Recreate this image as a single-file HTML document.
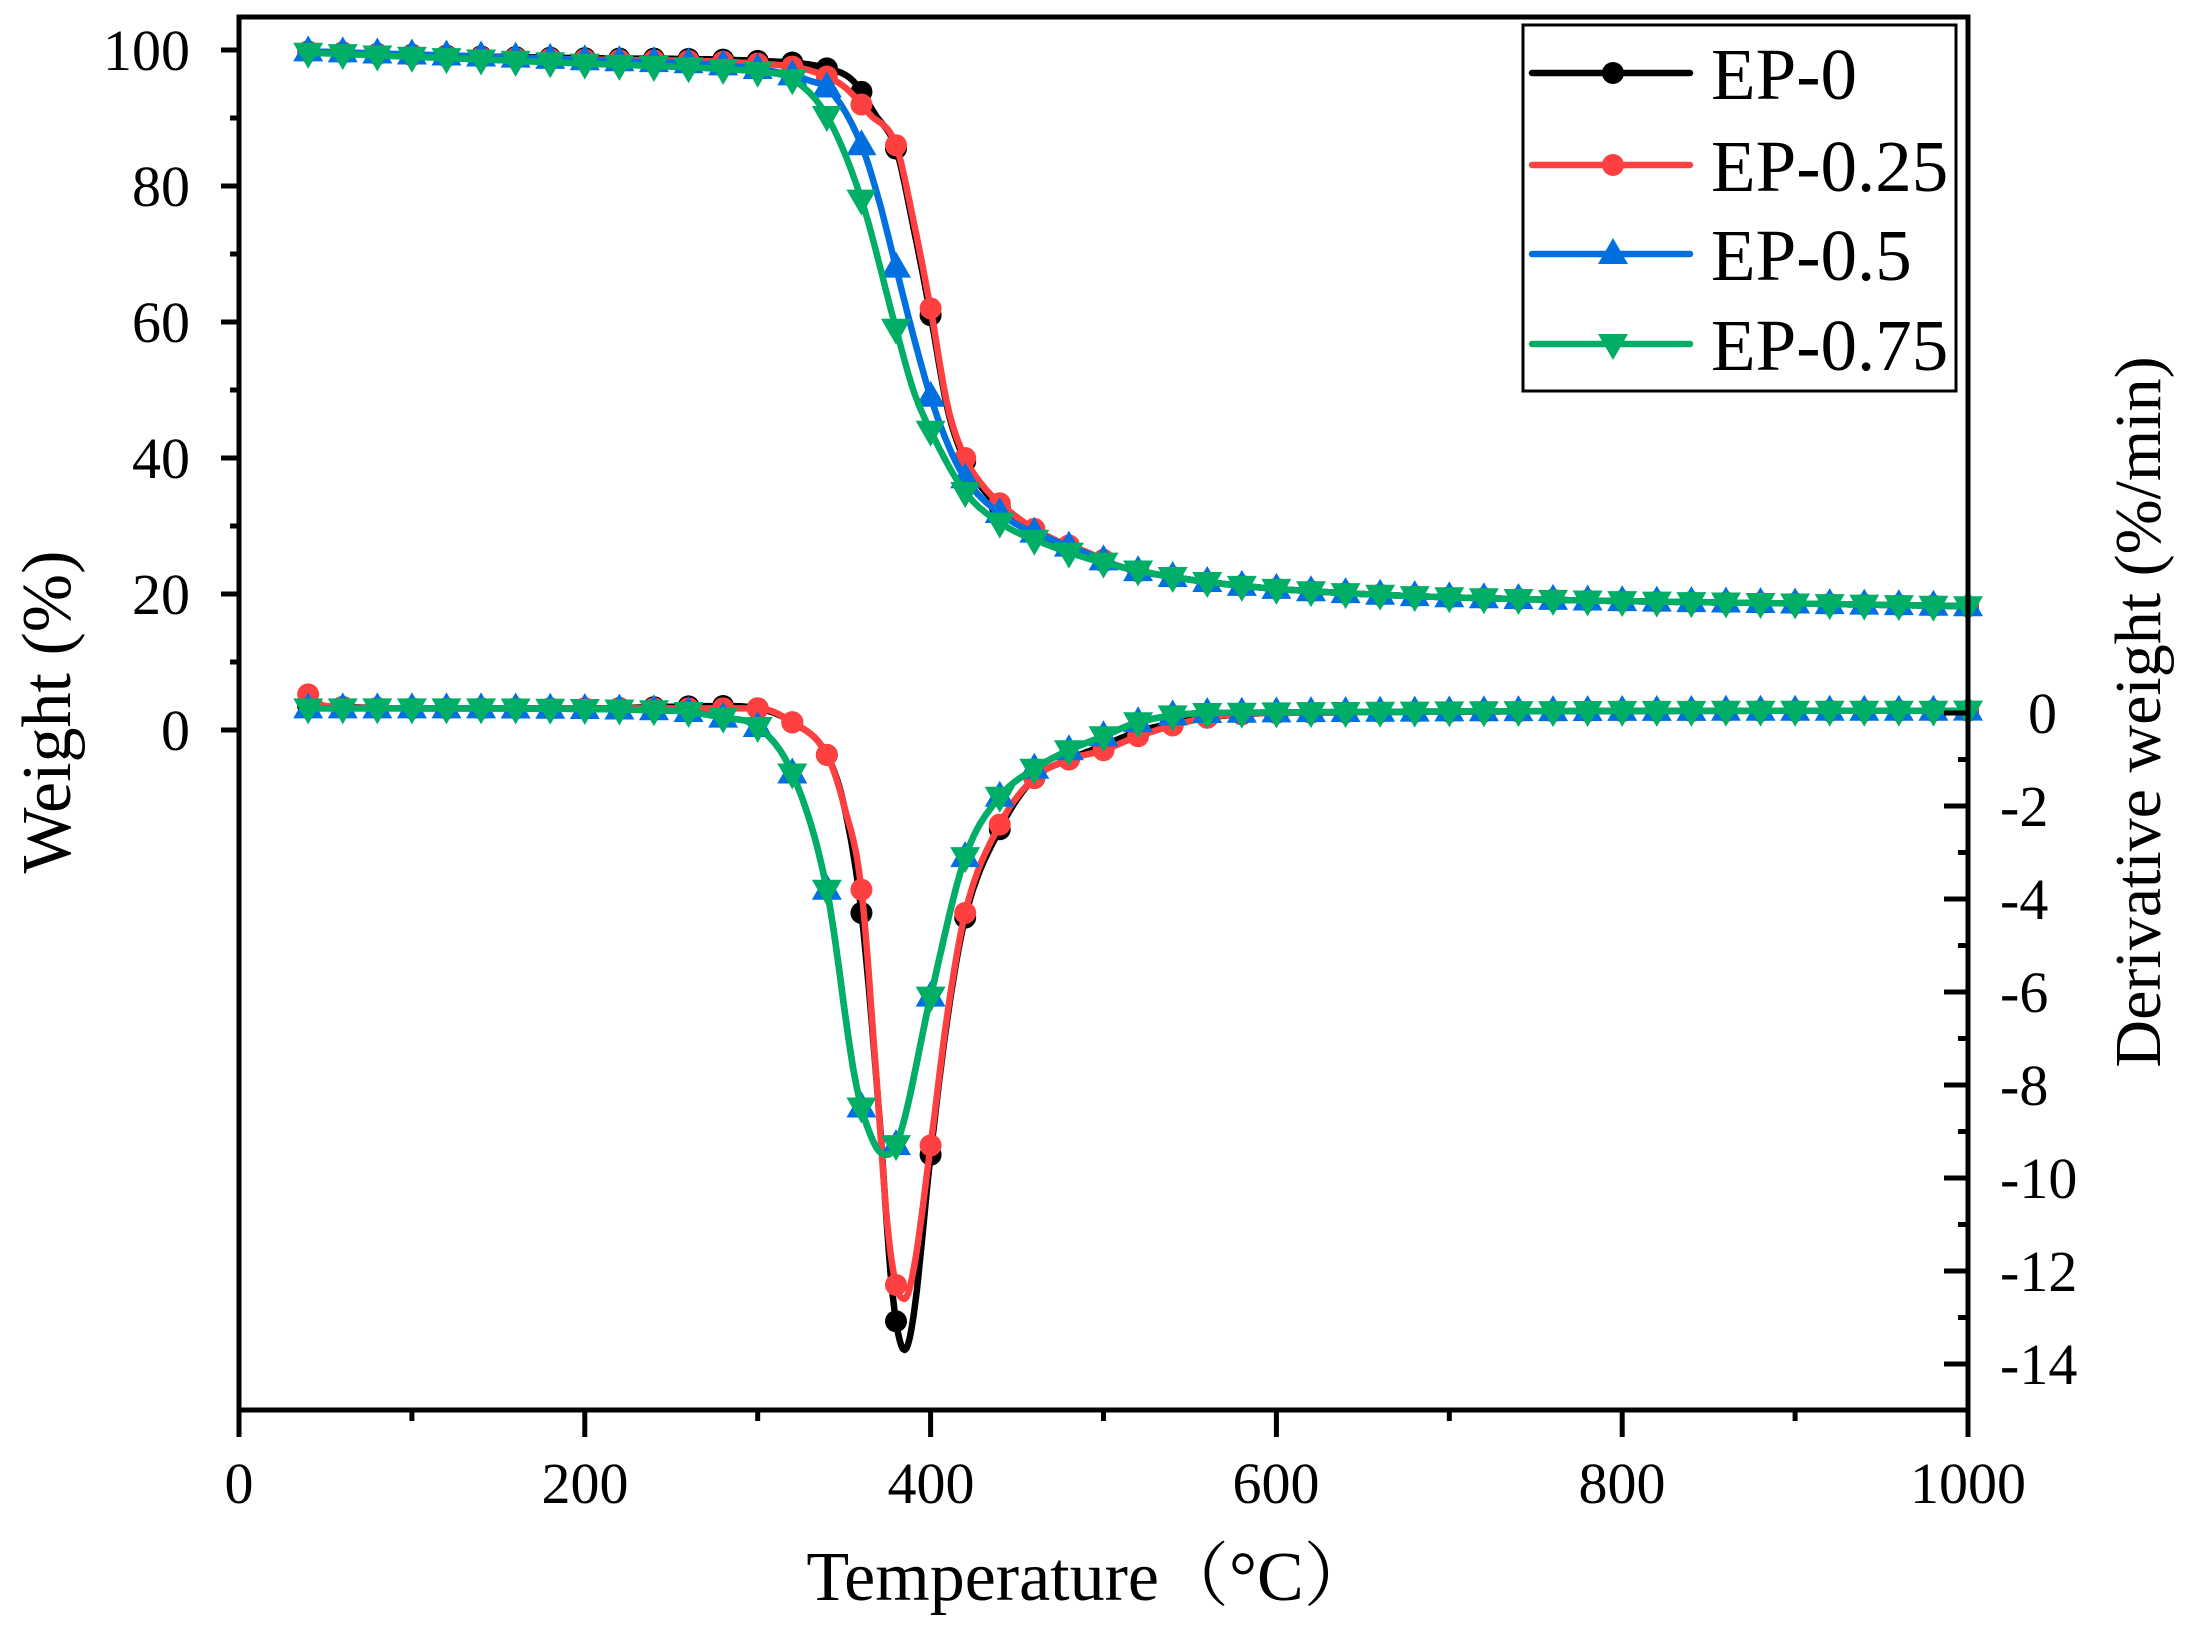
<!DOCTYPE html>
<html><head><meta charset="utf-8"><style>
html,body{margin:0;padding:0;background:#fff;}
svg{display:block;}
text{font-family:"Liberation Serif","Noto Serif CJK SC",serif;fill:#000;}
</style></head><body>
<svg id="s" width="2190" height="1644" viewBox="0 0 2190 1644" xmlns="http://www.w3.org/2000/svg">
<rect width="2190" height="1644" fill="#fff"/>
<g id="curves"></g>
<g id="axes" stroke="#000" stroke-width="5" fill="none">
<rect x="239" y="17" width="1729" height="1393"/>
</g>
<g id="ticks" stroke="#000" stroke-width="5"></g>
<g font-size="58">
<text x="190" y="70" text-anchor="end">100</text>
<text x="190" y="206" text-anchor="end">80</text>
<text x="190" y="342" text-anchor="end">60</text>
<text x="190" y="478" text-anchor="end">40</text>
<text x="190" y="614" text-anchor="end">20</text>
<text x="190" y="750" text-anchor="end">0</text>
<text x="239" y="1503" text-anchor="middle">0</text>
<text x="585" y="1503" text-anchor="middle">200</text>
<text x="931" y="1503" text-anchor="middle">400</text>
<text x="1276" y="1503" text-anchor="middle">600</text>
<text x="1622" y="1503" text-anchor="middle">800</text>
<text x="1968" y="1503" text-anchor="middle">1000</text>
<text x="2028" y="733">0</text>
<text x="2000" y="826">-2</text>
<text x="2000" y="919">-4</text>
<text x="2000" y="1012">-6</text>
<text x="2000" y="1105">-8</text>
<text x="2000" y="1198">-10</text>
<text x="2000" y="1291">-12</text>
<text x="2000" y="1384">-14</text>
</g>
<text x="1090" y="1600" font-size="70" text-anchor="middle">Temperature（°C）</text>
<text transform="translate(70,712) rotate(-90)" font-size="70" text-anchor="middle">Weight (%)</text>
<text transform="translate(2160,712) rotate(-90)" font-size="66" text-anchor="middle">Derivative weight (%/min)</text>
<g id="legend">
<rect x="1523" y="25" width="433" height="366" fill="#fff" stroke="#000" stroke-width="3"/>
</g>
</svg>
<script>
const NS="http://www.w3.org/2000/svg";
const X=t=>239+t*1.729, YL=v=>50+(100-v)*6.8, YR=d=>713-d*46.5;
function el(tag,attrs,parent){const e=document.createElementNS(NS,tag);for(const k in attrs)e.setAttribute(k,attrs[k]);parent.appendChild(e);return e;}
function interp(pts){
 const n=pts.length,xs=pts.map(p=>p[0]),ys=pts.map(p=>p[1]);
 const d=[],m=[];
 for(let i=0;i<n-1;i++)d.push((ys[i+1]-ys[i])/(xs[i+1]-xs[i]));
 m[0]=d[0];m[n-1]=d[n-2];
 for(let i=1;i<n-1;i++){ if(d[i-1]*d[i]<=0)m[i]=0; else m[i]=(d[i-1]+d[i])/2; }
 for(let i=0;i<n-1;i++){ if(d[i]===0){m[i]=0;m[i+1]=0;continue;} const a=m[i]/d[i],b=m[i+1]/d[i],s=a*a+b*b; if(s>9){const t=3/Math.sqrt(s);m[i]=t*a*d[i];m[i+1]=t*b*d[i];} }
 return x=>{let i=0;while(i<n-2&&x>xs[i+1])i++;const h=xs[i+1]-xs[i],t=(x-xs[i])/h,t2=t*t,t3=t2*t;
  return (2*t3-3*t2+1)*ys[i]+(t3-2*t2+t)*h*m[i]+(-2*t3+3*t2)*ys[i+1]+(t3-t2)*h*m[i+1];};
}
const tail=[[510,24],[540,22.5],[580,21.2],[650,20],[750,19.2],[900,18.6],[1000,18.2]];
const TG={
 k:[[40,99.8],[100,99.3],[200,98.8],[300,98.4],[340,97.3],[355,95.5],[368,90.5],[380,85.5],[390,74],[400,61],[410,47],[420,39.5],[430,35.5],[450,30.8],[470,27.8],[490,25.8]].concat(tail),
 r:[[40,99.8],[100,99.2],[200,98.6],[300,98],[330,97],[350,94.6],[365,90.5],[380,86],[390,75],[400,62],[410,47.5],[420,40],[430,36],[450,31.3],[470,28.2],[490,26.2]].concat(tail),
 b:[[40,99.8],[200,98.5],[300,97.2],[330,95.5],[342,94],[360,86],[370,78],[380,68],[390,58],[400,49],[410,42],[420,37],[445,31],[470,28],[490,26]].concat(tail),
 g:[[40,99.6],[200,98],[280,97.2],[300,96.8],[320,95.7],[340,90.3],[360,78],[380,59],[390,50],[400,44],[420,35],[440,30.5],[470,27],[490,25.3]].concat(tail)
};
const bg=[[40,0.1],[100,0.1],[250,0.05],[280,-0.1],[300,-0.3],[320,-1.3],[340,-3.8],[357,-8],[368,-9.3],[375,-9.5],[382,-9.1],[400,-6.1],[420,-3.1],[440,-1.8],[460,-1.2],[480,-0.8],[500,-0.5],[520,-0.2],[560,0],[1000,0.05]];
const DTG={
 k:[[40,0.15],[100,0.1],[200,0.1],[280,0.15],[300,0.1],[320,-0.2],[340,-0.9],[350,-2],[360,-4.3],[370,-8.5],[378,-12.5],[385,-13.7],[390,-13],[400,-9.5],[410,-6.5],[420,-4.4],[440,-2.5],[460,-1.4],[480,-1],[500,-0.7],[520,-0.4],[560,-0.1],[600,0],[1000,0.05]],
 r:[[40,0.4],[50,0.15],[100,0.1],[200,0.1],[300,0.1],[320,-0.2],[340,-0.9],[350,-2],[360,-3.8],[368,-7.5],[375,-11],[380,-12.3],[385,-12.6],[390,-12],[400,-9.3],[410,-6.4],[420,-4.3],[440,-2.4],[460,-1.4],[480,-1],[500,-0.8],[520,-0.5],[560,-0.1],[600,0],[1000,0.05]],
 b:bg,g:bg
};
const col={k:"#000000",r:"#FF4040",b:"#0070E0",g:"#00AE66"};
const G=document.getElementById("curves");
function marker(type,x,y,c,p){
 if(type==="k"||type==="r") el("circle",{cx:x,cy:y,r:11,fill:c},p);
 else if(type==="b") el("polygon",{points:`${x},${y-16} ${x-15},${y+10} ${x+15},${y+10}`,fill:c},p);
 else el("polygon",{points:`${x},${y+16} ${x-15},${y-10} ${x+15},${y-10}`,fill:c},p);
}
for(const s of ["k","r","b","g"]){
 for(const [data,Y] of [[TG[s],YL],[DTG[s],YR]]){
  const f=interp(data);let d="";
  for(let t=40;t<=1000;t+=1){d+=(t===40?"M":"L")+X(t).toFixed(1)+","+Y(f(t)).toFixed(1);}
  el("path",{d:d,fill:"none",stroke:col[s],"stroke-width":6.5,"stroke-linejoin":"round","stroke-linecap":"round"},G);
  for(let t=40;t<=1000;t+=20) marker(s,X(t),Y(f(t)),col[s],G);
 }
}
const T=document.getElementById("ticks");
for(let v=0;v<=100;v+=10){const y=YL(v);el("line",{x1:239,x2:v%20===0?221:230,y1:y,y2:y},T);}
for(let t=0;t<=1000;t+=100){const x=X(t);el("line",{x1:x,x2:x,y1:1410,y2:t%200===0?1437:1421},T);}
for(let d=0;d>=-14;d--){const y=YR(d);el("line",{x1:1968,x2:d%2===0?1944:1958,y1:y,y2:y},T);}
const L=document.getElementById("legend");
const names=["EP-0","EP-0.25","EP-0.5","EP-0.75"],ks=["k","r","b","g"],ys=[73,165,254,344];
ks.forEach((s,i)=>{const y=ys[i];
 el("line",{x1:1532,x2:1690,y1:y,y2:y,stroke:col[s],"stroke-width":6.5,"stroke-linecap":"round"},L);
 marker(s,1613,y,col[s],L);
 const t=el("text",{x:1711,y:y+26,"font-size":73},L);t.textContent=names[i];
});
</script>
</body></html>
